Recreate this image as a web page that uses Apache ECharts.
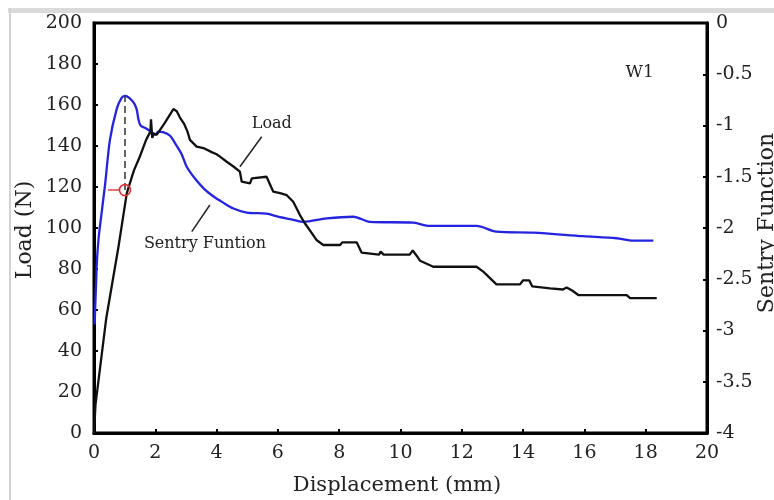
<!DOCTYPE html>
<html>
<head>
<meta charset="utf-8">
<script src="https://cdn.jsdelivr.net/npm/echarts@6/dist/echarts.min.js"></script>
<style>html,body{margin:0;padding:0;background:#fff;}#c{width:774px;height:500px;}</style>
</head>
<body>
<div id="c"></div>
<script>
// Load curve (N) vs displacement (mm)
var loadX = [0,0.05,0.4,0.8,1.07,1.3,1.5,1.7,1.84,1.86,1.9,1.95,2.05,2.3,2.59,2.7,2.8,2.95,3.05,3.13,3.35,3.57,3.84,4.0,4.11,4.33,4.55,4.76,4.82,5.09,5.15,5.63,5.85,6.07,6.29,6.5,6.72,6.88,7.27,7.48,8.03,8.1,8.57,8.73,9.3,9.35,9.45,10.3,10.4,10.55,10.64,11.07,12.48,12.7,13.13,13.9,14.0,14.2,14.3,14.88,15.3,15.42,15.6,15.8,17.38,17.49,18.36];
var loadY = [0,14,56,91,117,128,135,143,147,153,144,146,145.5,151,158,157,154,150.5,147,143,139.7,139,137,136,134.8,132.3,130,127.5,122.6,121.8,124.2,125,117.7,117,116,112.8,106.3,102.3,94,91.7,91.7,93,93,88,87,88.5,87,87,89,86,84,81.1,81.1,78.7,72.5,72.5,74.5,74.5,71.5,70.6,70,71,69.5,67.3,67.3,65.8,65.8];
// Sentry function (right axis)
var sentryX = [0.02,0.06,0.1,0.15,0.2,0.36,0.52,0.74,0.9,1.01,1.15,1.3,1.39,1.45,1.52,1.7,1.9,2.0,2.1,2.25,2.48,2.7,2.86,3.02,3.3,3.6,3.89,4.2,4.55,4.98,5.63,6.0,6.5,6.83,7.59,8.46,9.0,10.42,10.96,12.48,13.13,14.33,15.96,17.05,17.6,18.25];
var sentryY = [-2.94,-2.6,-2.3,-2.1,-1.97,-1.58,-1.14,-0.84,-0.73,-0.71,-0.73,-0.78,-0.84,-0.94,-1.0,-1.03,-1.07,-1.09,-1.06,-1.064,-1.1,-1.2,-1.28,-1.4,-1.52,-1.62,-1.69,-1.75,-1.81,-1.85,-1.86,-1.89,-1.92,-1.94,-1.906,-1.89,-1.94,-1.948,-1.98,-1.98,-2.036,-2.046,-2.08,-2.1,-2.124,-2.124];
// annotation anchors (data space)
var peakPoint = [1.01, 118.5];
var peakTop = [1.01, 164.5];
var tickStart = [0.46, 118.5];
var tickEnd = [0.85, 118.5];
var loadLeader = [[5.47,144.5],[4.76,129.9]];
var sentryLeader = [[3.19,98.2],[3.78,111.2]];
var loadLabelPos = [5.8, 151];
var sentryLabelPos = [3.62, 92.5];
var w1Pos = [17.8, 175.6];

var FONT = 'DejaVu Serif';
var TXT = '#222';
function pairs(xs, ys){ return xs.map(function(x,i){ return [x, ys[i]]; }); }

var chart = echarts.init(document.getElementById('c'));
var option = {
  animation: false,
  backgroundColor: '#fff',
  grid: {left: 94, right: 67, top: 23, bottom: 67, show: true, borderColor: '#000', borderWidth: 3, backgroundColor: 'transparent'},
  xAxis: {
    type: 'value', min: 0, max: 20, interval: 2,
    axisLine: {show: true, lineStyle: {color: '#000', width: 3}},
    axisTick: {show: true, inside: true, length: 4, lineStyle: {color: '#000', width: 2}},
    axisLabel: {color: TXT, fontFamily: FONT, fontSize: 19, margin: 11},
    splitLine: {show: false}
  },
  yAxis: [{
    type: 'value', min: 0, max: 200, interval: 20, position: 'left',
    axisLine: {show: true, lineStyle: {color: '#000', width: 3}},
    axisTick: {show: true, inside: true, length: 4, lineStyle: {color: '#000', width: 2}},
    axisLabel: {color: TXT, fontFamily: FONT, fontSize: 19, margin: 12},
    splitLine: {show: false}
  }, {
    type: 'value', min: -4, max: 0, interval: 0.5, position: 'right',
    axisLine: {show: true, onZero: false, lineStyle: {color: '#000', width: 3}},
    axisTick: {show: true, inside: true, length: 4, lineStyle: {color: '#000', width: 2}},
    axisLabel: {color: TXT, fontFamily: FONT, fontSize: 19, margin: 9},
    splitLine: {show: false}
  }],
  series: [{
    name: 'Load', type: 'line', yAxisIndex: 0, data: pairs(loadX, loadY),
    showSymbol: false, symbol: 'none', lineStyle: {color: '#111', width: 2.3}, z: 3,
    markLine: {
      silent: true, symbol: ['none','none'], label: {show: false},
      data: [
        [{coord: peakPoint, lineStyle: {color: '#333', width: 1.5, type: [7,4]}}, {coord: peakTop}],
        [{coord: tickStart, lineStyle: {color: '#e04040', width: 1.5, type: 'solid'}}, {coord: tickEnd}],
        [{coord: loadLeader[0], lineStyle: {color: '#222', width: 1.5, type: 'solid'}}, {coord: loadLeader[1]}],
        [{coord: sentryLeader[0], lineStyle: {color: '#222', width: 1.5, type: 'solid'}}, {coord: sentryLeader[1]}]
      ]
    },
    markPoint: {
      silent: true, symbol: 'circle', symbolSize: 11, label: {show: false},
      itemStyle: {color: 'rgba(255,255,255,0)', borderColor: '#e03030', borderWidth: 1.6},
      data: [{coord: peakPoint}]
    }
  }, {
    name: 'Sentry Function', type: 'line', yAxisIndex: 1, data: pairs(sentryX, sentryY),
    showSymbol: false, symbol: 'none', smooth: 0.3, lineStyle: {color: '#2323e0', width: 2.3}, z: 2
  }]
};
chart.setOption(option);

function px(p){ return chart.convertToPixel({xAxisIndex: 0, yAxisIndex: 0}, p); }
var lp = px(loadLabelPos), sp = px(sentryLabelPos), wp = px(w1Pos);
chart.setOption({
  graphic: [
    {type: 'rect', shape: {x: 8, y: 8, width: 766, height: 5}, style: {fill: '#dadada'}, silent: true, z: 0},
    {type: 'rect', shape: {x: 9, y: 8, width: 2, height: 492}, style: {fill: '#d2d2d2'}, silent: true, z: 0},
    {type: 'text', x: lp[0], y: lp[1], style: {text: 'Load', fill: TXT, font: '16px "DejaVu Serif"', textAlign: 'center', textVerticalAlign: 'middle'}, z: 10},
    {type: 'text', x: sp[0], y: sp[1], style: {text: 'Sentry Funtion', fill: TXT, font: '16px "DejaVu Serif"', textAlign: 'center', textVerticalAlign: 'middle'}, z: 10},
    {type: 'text', x: wp[0], y: wp[1], style: {text: 'W1', fill: TXT, font: '17px "DejaVu Serif"', textAlign: 'center', textVerticalAlign: 'middle'}, z: 10},
    {type: 'text', x: 397, y: 486, style: {text: 'Displacement (mm)', fill: TXT, font: '21px "DejaVu Serif"', textAlign: 'center', textVerticalAlign: 'middle'}, z: 10},
    {type: 'text', x: 25, y: 230, rotation: Math.PI / 2, style: {text: 'Load (N)', fill: TXT, font: '22px "DejaVu Serif"', textAlign: 'center', textVerticalAlign: 'middle'}, z: 10},
    {type: 'text', x: 767, y: 223, rotation: Math.PI / 2, style: {text: 'Sentry Function', fill: TXT, font: '22px "DejaVu Serif"', textAlign: 'center', textVerticalAlign: 'middle'}, z: 10}
  ]
});
</script>
</body>
</html>
